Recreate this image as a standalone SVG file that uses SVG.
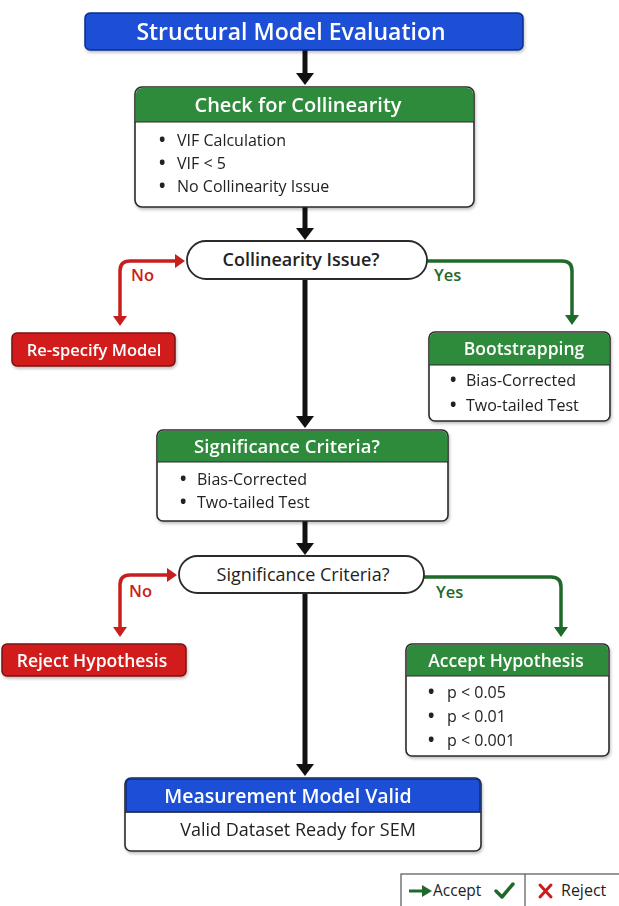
<svg xmlns="http://www.w3.org/2000/svg" width="619" height="906" viewBox="0 0 619 906">
<style>
text{font-family:"Open Sans","Noto Sans","Liberation Sans",sans-serif;}
.hd{font-weight:600;fill:#fff;text-anchor:middle;}
.bd{fill:#fff;stroke:#2a2a2a;stroke-width:1.6;}
.blue{fill:#1a4fd6;stroke:#0f2f86;stroke-width:1.5;}
.green{fill:#2f8b3b;}
.red{fill:#d21f1f;stroke:#7a1010;stroke-width:1.5;}
.li{font-size:16px;fill:#222;}
.bu{font-size:17px;fill:#222;font-weight:700;}
.pill{fill:#fff;stroke:#2a2a2a;stroke-width:1.8;}
.q{font-size:18px;fill:#222;text-anchor:middle;}
.main{stroke:#111;stroke-width:5;fill:none;}
.no{stroke:#c81e1e;stroke-width:3.5;fill:none;}
.yes{stroke:#1f6a2a;stroke-width:3.5;fill:none;}
.lbn{font-size:16.5px;font-weight:600;fill:#c81e1e;}
.lby{font-size:16.5px;font-weight:600;fill:#1f6a2a;}
</style>
<defs>
<marker id="ab" viewBox="0 0 12 18" markerWidth="12" markerHeight="18" refX="4" refY="9" orient="auto" markerUnits="userSpaceOnUse"><path d="M0,0 L12,9 L0,18 z" fill="#111"/></marker>
<marker id="ar" viewBox="0 0 10 14" markerWidth="10" markerHeight="14" refX="3" refY="7" orient="auto-start-reverse" markerUnits="userSpaceOnUse"><path d="M0,0 L10,7 L0,14 z" fill="#c81e1e"/></marker>
<marker id="ag" viewBox="0 0 10 14" markerWidth="10" markerHeight="14" refX="3" refY="7" orient="auto" markerUnits="userSpaceOnUse"><path d="M0,0 L10,7 L0,14 z" fill="#1f6a2a"/></marker>
<filter id="sh" x="-5%" y="-5%" width="110%" height="120%"><feDropShadow dx="1" dy="2" stdDeviation="1.5" flood-opacity="0.25"/></filter>
</defs>
<rect width="619" height="906" fill="#fff"/>

<g id="connectors">
<line class="main" x1="305" y1="50" x2="305" y2="77" marker-end="url(#ab)"/>
<line class="main" x1="305" y1="207" x2="305" y2="232" marker-end="url(#ab)"/>
<line class="main" x1="305" y1="279" x2="305" y2="420" marker-end="url(#ab)"/>
<line class="main" x1="305" y1="521" x2="305" y2="547" marker-end="url(#ab)"/>
<line class="main" x1="305" y1="593" x2="305" y2="768" marker-end="url(#ab)"/>
<path class="no" d="M120,319 V271 Q120,261 130,261 H178" marker-start="url(#ar)" marker-end="url(#ar)"/>
<path class="yes" d="M427,261 H562 Q572,261 572,271 V318" marker-end="url(#ag)"/>
<path class="no" d="M120,630 V585 Q120,575 130,575 H170" marker-start="url(#ar)" marker-end="url(#ar)"/>
<path class="yes" d="M424,577 H551 Q561,577 561,587 V630" marker-end="url(#ag)"/>
<text class="lbn" x="131" y="281">No</text>
<text class="lby" x="434" y="281">Yes</text>
<text class="lbn" x="129" y="597">No</text>
<text class="lby" x="436" y="598">Yes</text>
</g>

<g id="title" filter="url(#sh)">
<rect class="blue" x="85" y="13" width="438" height="37" rx="5"/>
<text class="hd" x="291" y="39.5" font-size="23">Structural Model Evaluation</text>
</g>

<g id="check" filter="url(#sh)">
<rect class="bd" x="135" y="87" width="339" height="120" rx="7"/>
<path class="green" d="M136,122 V94 Q136,88 142,88 H467 Q473,88 473,94 V122 z"/>
<line x1="135" y1="122" x2="474" y2="122" stroke="#2a2a2a" stroke-width="1.2"/>
<text class="hd" x="298" y="111.5" font-size="20">Check for Collinearity</text>
<text class="bu" x="159" y="146">•</text><text class="li" x="177" y="146">VIF Calculation</text>
<text class="bu" x="159" y="169">•</text><text class="li" x="177" y="169">VIF &lt; 5</text>
<text class="bu" x="159" y="192">•</text><text class="li" x="177" y="192">No Collinearity Issue</text>
</g>

<g id="collinearity-issue">
<rect class="pill" x="187" y="241" width="240" height="38" rx="19"/>
<text class="q" x="301" y="266" font-weight="600">Collinearity Issue?</text>
</g>

<g id="respecify" filter="url(#sh)">
<rect class="red" x="12" y="333" width="163" height="33" rx="5"/>
<text class="hd" x="94" y="355.5" font-size="16.5">Re-specify Model</text>
</g>

<g id="bootstrapping" filter="url(#sh)">
<rect class="bd" x="429" y="332" width="181" height="89" rx="6"/>
<path class="green" d="M430,365 V338 Q430,333 435,333 H604 Q609,333 609,338 V365 z"/>
<line x1="429" y1="365" x2="610" y2="365" stroke="#2a2a2a" stroke-width="1.2"/>
<text class="hd" x="524" y="355" font-size="17.5">Bootstrapping</text>
<text class="bu" x="450" y="386">•</text><text class="li" x="466" y="386">Bias-Corrected</text>
<text class="bu" x="450" y="411">•</text><text class="li" x="466" y="411">Two-tailed Test</text>
</g>

<g id="significance-box" filter="url(#sh)">
<rect class="bd" x="157" y="430" width="291" height="91" rx="6"/>
<path class="green" d="M158,462 V436 Q158,431 163,431 H442 Q447,431 447,436 V462 z"/>
<line x1="157" y1="462" x2="448" y2="462" stroke="#2a2a2a" stroke-width="1.2"/>
<text class="hd" x="287" y="452.5" font-size="18.5">Significance Criteria?</text>
<text class="bu" x="180" y="485">•</text><text class="li" x="197" y="485">Bias-Corrected</text>
<text class="bu" x="180" y="508">•</text><text class="li" x="197" y="508">Two-tailed Test</text>
</g>

<g id="significance-decision">
<rect class="pill" x="179" y="556" width="245" height="37" rx="18.5"/>
<text class="q" x="303" y="581" font-size="19">Significance Criteria?</text>
</g>

<g id="reject" filter="url(#sh)">
<rect class="red" x="2" y="644" width="184" height="32" rx="5"/>
<text class="hd" x="92" y="666.5" font-size="17.5">Reject Hypothesis</text>
</g>

<g id="accept" filter="url(#sh)">
<rect class="bd" x="406" y="644" width="203" height="112" rx="6"/>
<path class="green" d="M407,676 V650 Q407,645 412,645 H603 Q608,645 608,650 V676 z"/>
<line x1="406" y1="676" x2="609" y2="676" stroke="#2a2a2a" stroke-width="1.2"/>
<text class="hd" x="506" y="667" font-size="17.5">Accept Hypothesis</text>
<text class="bu" x="428" y="698">•</text><text class="li" x="447" y="698" font-size="18">p &lt; 0.05</text>
<text class="bu" x="428" y="722">•</text><text class="li" x="447" y="722" font-size="18">p &lt; 0.01</text>
<text class="bu" x="428" y="746">•</text><text class="li" x="447" y="746" font-size="18">p &lt; 0.001</text>
</g>

<g id="measurement" filter="url(#sh)">
<rect class="bd" x="125" y="778" width="356" height="73" rx="6"/>
<path class="blue" stroke="none" d="M126,812 V784 Q126,779 131,779 H475 Q480,779 480,784 V812 z"/>
<line x1="125" y1="812" x2="481" y2="812" stroke="#2a2a2a" stroke-width="1.2"/>
<text class="hd" x="288" y="802.5" font-size="19.5">Measurement Model Valid</text>
<text class="q" x="298" y="836" font-size="16.8">Valid Dataset Ready for SEM</text>
</g>

<g id="legend">
<rect x="401" y="874" width="230" height="36" fill="#fff" stroke="#555" stroke-width="1.2"/>
<line x1="525" y1="874" x2="525" y2="906" stroke="#555" stroke-width="1.2"/>
<line x1="409" y1="891" x2="424" y2="891" stroke="#1f6a2a" stroke-width="3"/>
<path d="M422,885 L432,891 L422,897 z" fill="#1f6a2a"/>
<text x="433" y="896" font-size="15.5" fill="#222">Accept</text>
<path d="M496,891 L502,897 L513,884" fill="none" stroke="#1f6a2a" stroke-width="3.5" stroke-linecap="round" stroke-linejoin="round"/>
<path d="M540,885 L551,897 M551,885 L540,897" stroke="#c81e1e" stroke-width="3" stroke-linecap="round"/>
<text x="561" y="896" font-size="16" fill="#222">Reject</text>
</g>
</svg>
